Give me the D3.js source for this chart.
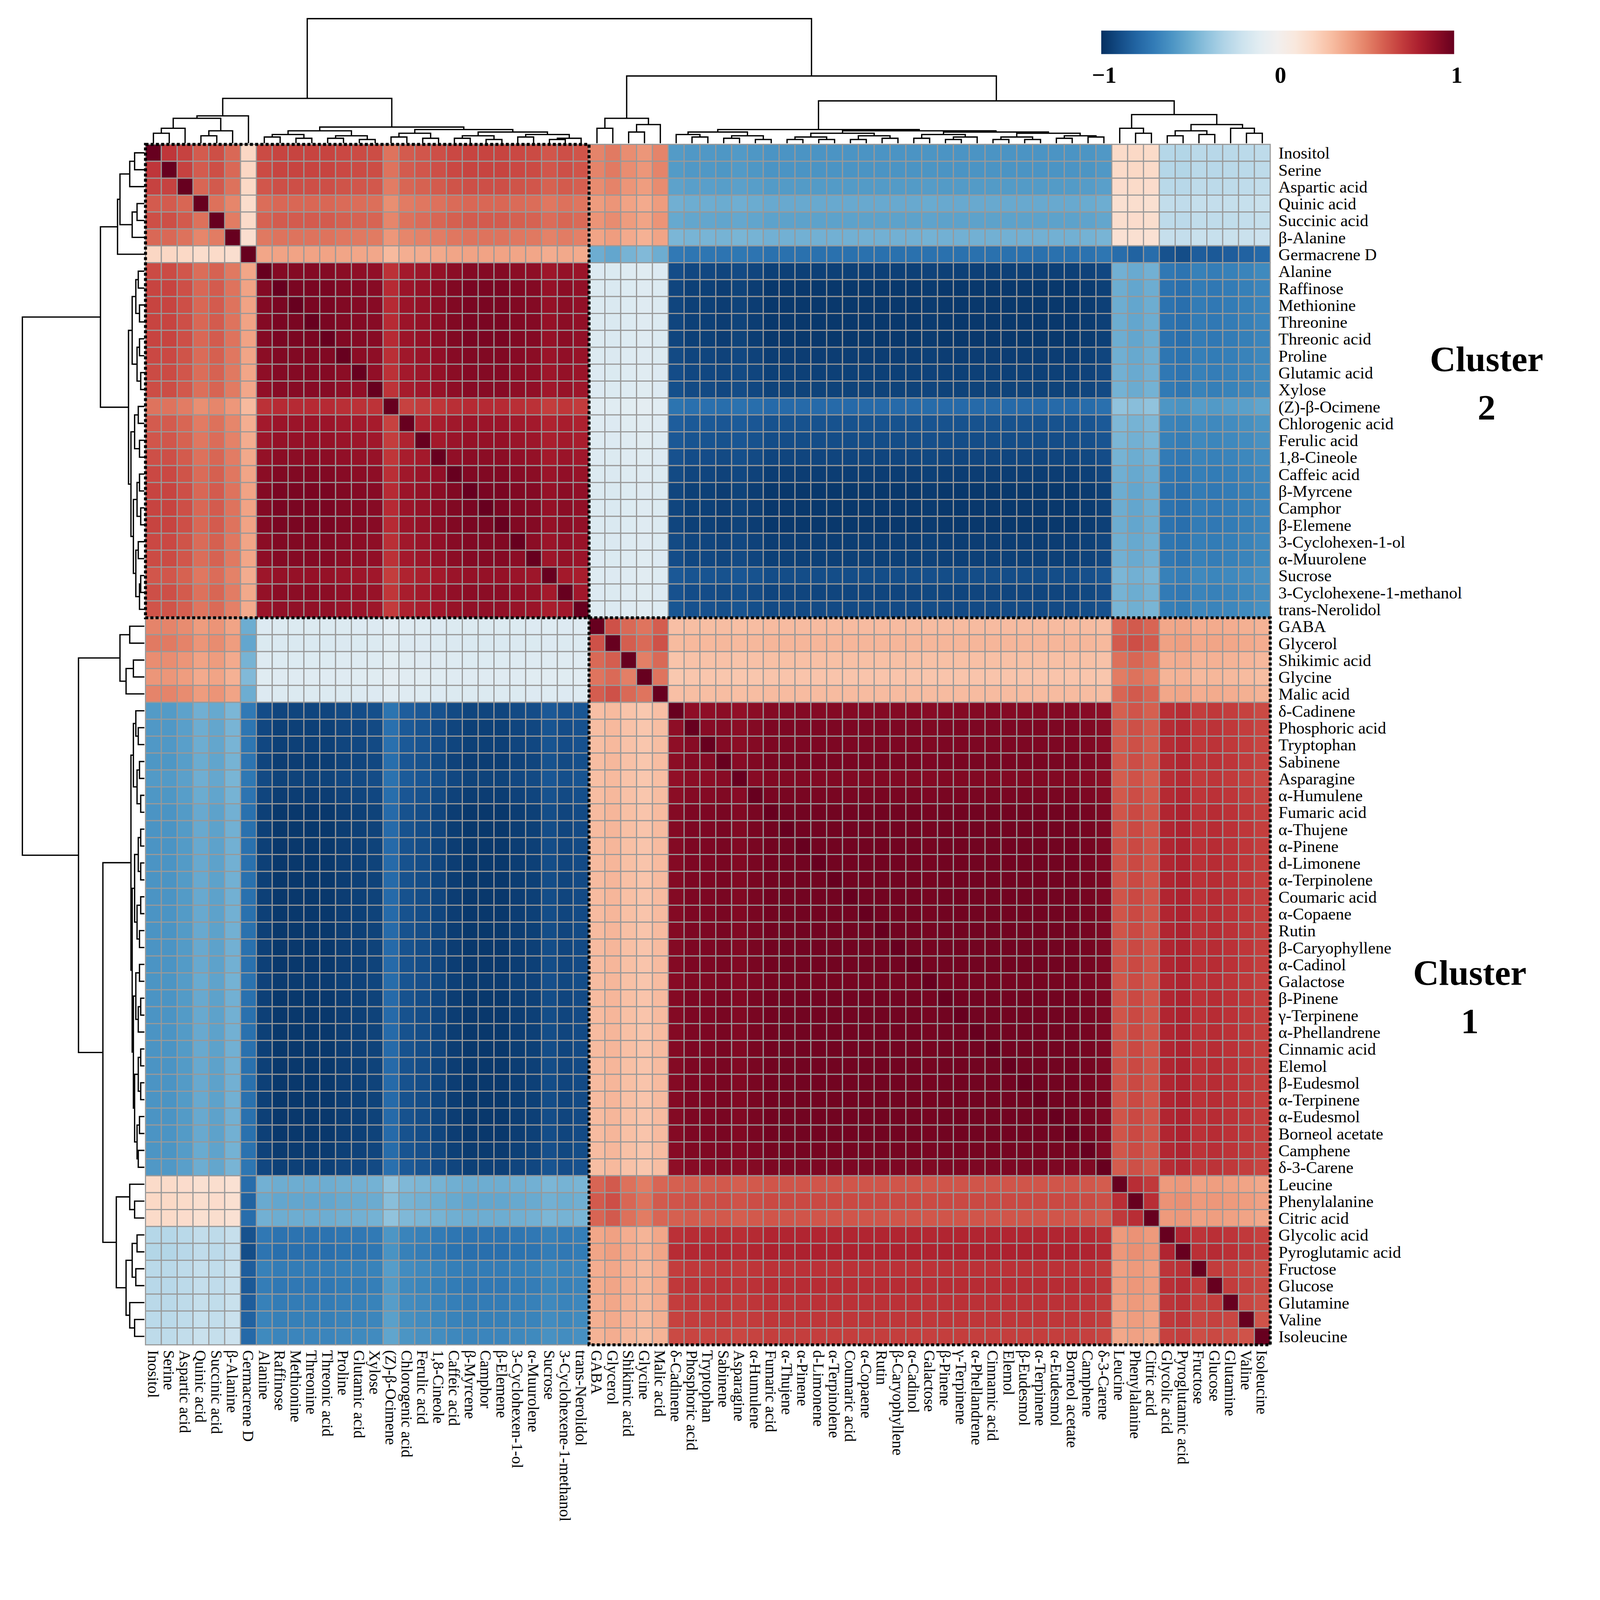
<!DOCTYPE html>
<html><head><meta charset="utf-8">
<script src="https://cdn.jsdelivr.net/npm/d3@7"></script>
<style>html,body{margin:0;padding:0;background:#fff;overflow:hidden}svg{display:block}</style></head>
<body><svg id="c" viewBox="0 0 4226 4289" preserveAspectRatio="xMinYMin meet"></svg>
<script>
const labels=["Inositol","Serine","Aspartic acid","Quinic acid","Succinic acid","β-Alanine","Germacrene D","Alanine","Raffinose","Methionine","Threonine","Threonic acid","Proline","Glutamic acid","Xylose","(Z)-β-Ocimene","Chlorogenic acid","Ferulic acid","1,8-Cineole","Caffeic acid","β-Myrcene","Camphor","β-Elemene","3-Cyclohexen-1-ol","α-Muurolene","Sucrose","3-Cyclohexene-1-methanol","trans-Nerolidol","GABA","Glycerol","Shikimic acid","Glycine","Malic acid","δ-Cadinene","Phosphoric acid","Tryptophan","Sabinene","Asparagine","α-Humulene","Fumaric acid","α-Thujene","α-Pinene","d-Limonene","α-Terpinolene","Coumaric acid","α-Copaene","Rutin","β-Caryophyllene","α-Cadinol","Galactose","β-Pinene","γ-Terpinene","α-Phellandrene","Cinnamic acid","Elemol","β-Eudesmol","α-Terpinene","α-Eudesmol","Borneol acetate","Camphene","δ-3-Carene","Leucine","Phenylalanine","Citric acid","Glycolic acid","Pyroglutamic acid","Fructose","Glucose","Glutamine","Valine","Isoleucine"];
// group of each variable (A..G as 0..6)
const groupOf=[0,0,0,0,0,0,1,2,2,2,2,2,2,2,2,2,2,2,2,2,2,2,2,2,2,2,2,2,3,3,3,3,3,4,4,4,4,4,4,4,4,4,4,4,4,4,4,4,4,4,4,4,4,4,4,4,4,4,4,4,4,5,5,5,6,6,6,6,6,6,6];
// approximate mean correlation between groups
const blockCorr=[
 [0.72, 0.2, 0.68, 0.55,-0.6, 0.2,-0.3],
 [0.2, 1.0, 0.4,-0.55,-0.75,-0.85,-0.92],
 [0.68, 0.4, 0.95,-0.15,-0.97,-0.55,-0.78],
 [0.55,-0.55,-0.15, 0.75, 0.35, 0.72, 0.45],
 [-0.6,-0.75,-0.97,0.35, 0.97, 0.7, 0.82],
 [0.2,-0.85,-0.55, 0.72, 0.7, 0.88, 0.5],
 [-0.3,-0.92,-0.78,0.45, 0.82, 0.5, 0.85]];
// approximate per-variable strength of association
const strength=[1,1,0.95,0.85,0.9,0.8,1,0.97,1,1,1,1,0.98,0.97,0.96,0.8,0.9,0.92,0.95,0.98,1,1,1,0.98,0.97,0.92,0.95,0.93,
0.9,0.95,0.85,0.8,0.9,0.95,0.97,0.97,0.98,0.96,0.98,1,1,1,1,1,1,1,1,1,1,0.99,1,1,1,1,1,1,1,1,1,0.99,0.97,
0.9,0.95,0.9,0.95,0.97,0.9,0.92,0.9,0.88,0.85];
// dendrogram [height, left, right], leaves = variable index
const tree=[1,
 [0.36,[0.22,[0.2,[0.12,[0.08,0,1],2],[0.1,[0.06,3,4],5]],6],
   [0.13,[0.1,[0.07,[0.05,7,8],[0.04,9,10]],[0.06,[0.04,11,12],[0.03,13,14]]],
     [0.11,[0.08,[0.05,15,16],[0.04,17,18]],[0.09,[0.06,[0.04,19,20],[0.03,21,22]],[0.07,[0.05,23,24],[0.04,[0.03,25,26],27]]]]]],
 [0.54,[0.2,[0.12,28,29],[0.15,[0.09,30,31],32]],
   [0.34,[0.11,[0.09,[0.07,33,[0.05,34,35]],[0.06,[0.04,36,37],[0.03,38,39]]],
      [0.1,[0.08,[0.05,[0.03,40,41],[0.03,42,43]],[0.06,[0.03,44,45],[0.04,46,47]]],
       [0.09,[0.07,[0.04,48,49],[0.05,[0.03,50,51],52]],[0.08,[0.05,[0.03,53,54],[0.03,55,56]],[0.06,[0.04,57,58],[0.05,59,60]]]]]],
     [0.23,[0.12,61,[0.08,62,63]],[0.15,[0.1,[0.06,64,65],[0.07,66,67]],[0.12,68,[0.08,69,70]]]]]]];
const cbTicks=["−1","0","1"];

const W=4226,Hh=4289;
const svg=d3.select("#c");
const sc=Math.min(window.innerWidth/W,window.innerHeight/Hh);
svg.attr("width",W*sc).attr("height",Hh*sc);
svg.append("rect").attr("width",W).attr("height",Hh).attr("fill","#fff");
const n=labels.length;
const cells=[];
for(let i=0;i<n;i++)for(let j=0;j<n;j++){
  let v=i===j?1:Math.max(-1,Math.min(1,blockCorr[groupOf[i]][groupOf[j]]*strength[i]*strength[j]));
  cells.push({i,j,v});
}
const X0=390,X1=3405,Y0=387,Y1=3605;
const x=d3.scaleBand().domain(d3.range(n)).range([X0,X1]);
const y=d3.scaleBand().domain(d3.range(n)).range([Y0,Y1]);
const col=d3.scaleSequential(t=>d3.interpolateRdBu(1-t)).domain([-1,1]);
svg.append("g").selectAll("rect").data(cells).join("rect")
 .attr("x",d=>x(d.j)).attr("y",d=>y(d.i)).attr("width",x.bandwidth()).attr("height",y.bandwidth())
 .attr("fill",d=>col(d.v)).attr("stroke","#999").attr("stroke-width",3);
const split=28;
const box=(a,b)=>svg.append("rect").attr("x",x(a)).attr("y",y(a)).attr("width",x(b)+x.bandwidth()-x(a)).attr("height",y(b)+y.bandwidth()-y(a))
 .attr("fill","none").attr("stroke","#000").attr("stroke-width",8).attr("stroke-dasharray","8,6");
box(0,split-1);box(split,n-1);
svg.append("g").selectAll("text").data(labels).join("text")
 .attr("x",X1+22).attr("y",(d,i)=>y(i)+y.bandwidth()/2).attr("dy","0.35em")
 .attr("font-family","Liberation Serif").attr("font-size",45).text(d=>d);
svg.append("g").selectAll("text").data(labels).join("text")
 .attr("transform",(d,i)=>`translate(${x(i)+x.bandwidth()/2},${Y1+14}) rotate(90)`).attr("dy","0.35em")
 .attr("font-family","Liberation Serif").attr("font-size",42).text(d=>d);
function layout(node){
  if(typeof node==="number")return {pos:node,h:0,leaf:true};
  return {h:node[0],a:layout(node[1]),b:layout(node[2])};
}
const root=layout(tree);
const hTop=d3.scaleLinear().domain([0,1]).range([Y0-3,50]);
const hLeft=d3.scaleLinear().domain([0,1]).range([X0-3,60]);
function draw(node,posScale,hs,vertical,path){
  if(node.leaf)return posScale(node.pos);
  const pa=draw(node.a,posScale,hs,vertical,path),pb=draw(node.b,posScale,hs,vertical,path);
  const H=hs(node.h),ha=hs(node.a.h),hb=hs(node.b.h);
  if(vertical)path.push(`M${pa},${ha}V${H}H${pb}V${hb}`);
  else path.push(`M${ha},${pa}H${H}V${pb}H${hb}`);
  return (pa+pb)/2;
}
const p1=[],p2=[];
draw(root,i=>x(i)+x.bandwidth()/2,hTop,true,p1);
draw(root,i=>y(i)+y.bandwidth()/2,hLeft,false,p2);
svg.append("path").attr("d",p1.join("")).attr("fill","none").attr("stroke","#000").attr("stroke-width",3.5);
svg.append("path").attr("d",p2.join("")).attr("fill","none").attr("stroke","#000").attr("stroke-width",3.5);
const defs=svg.append("defs");
const g=defs.append("linearGradient").attr("id","gr");
d3.range(0,1.001,0.05).forEach(t=>g.append("stop").attr("offset",t).attr("stop-color",col(-1+2*t)));
svg.append("rect").attr("x",2952).attr("y",82).attr("width",946).attr("height",63).attr("fill","url(#gr)");
const cb=d3.scaleLinear().domain([-1,1]).range([2960,3905]);
svg.selectAll(".cbt").data(cbTicks).join("text").attr("x",(d,i)=>cb(-1+i)).attr("y",222)
 .attr("text-anchor","middle").attr("font-family","Liberation Serif").attr("font-weight","bold").attr("font-size",62).text(d=>d);
const cl=(lines,cx,cy)=>lines.forEach((t,k)=>svg.append("text").attr("x",cx).attr("y",cy+k*130).attr("text-anchor","middle")
 .attr("font-family","Liberation Serif").attr("font-weight","bold").attr("font-size",96).text(t));
cl(["Cluster","2"],3985,995);cl(["Cluster","1"],3940,2640);
</script></body></html>
